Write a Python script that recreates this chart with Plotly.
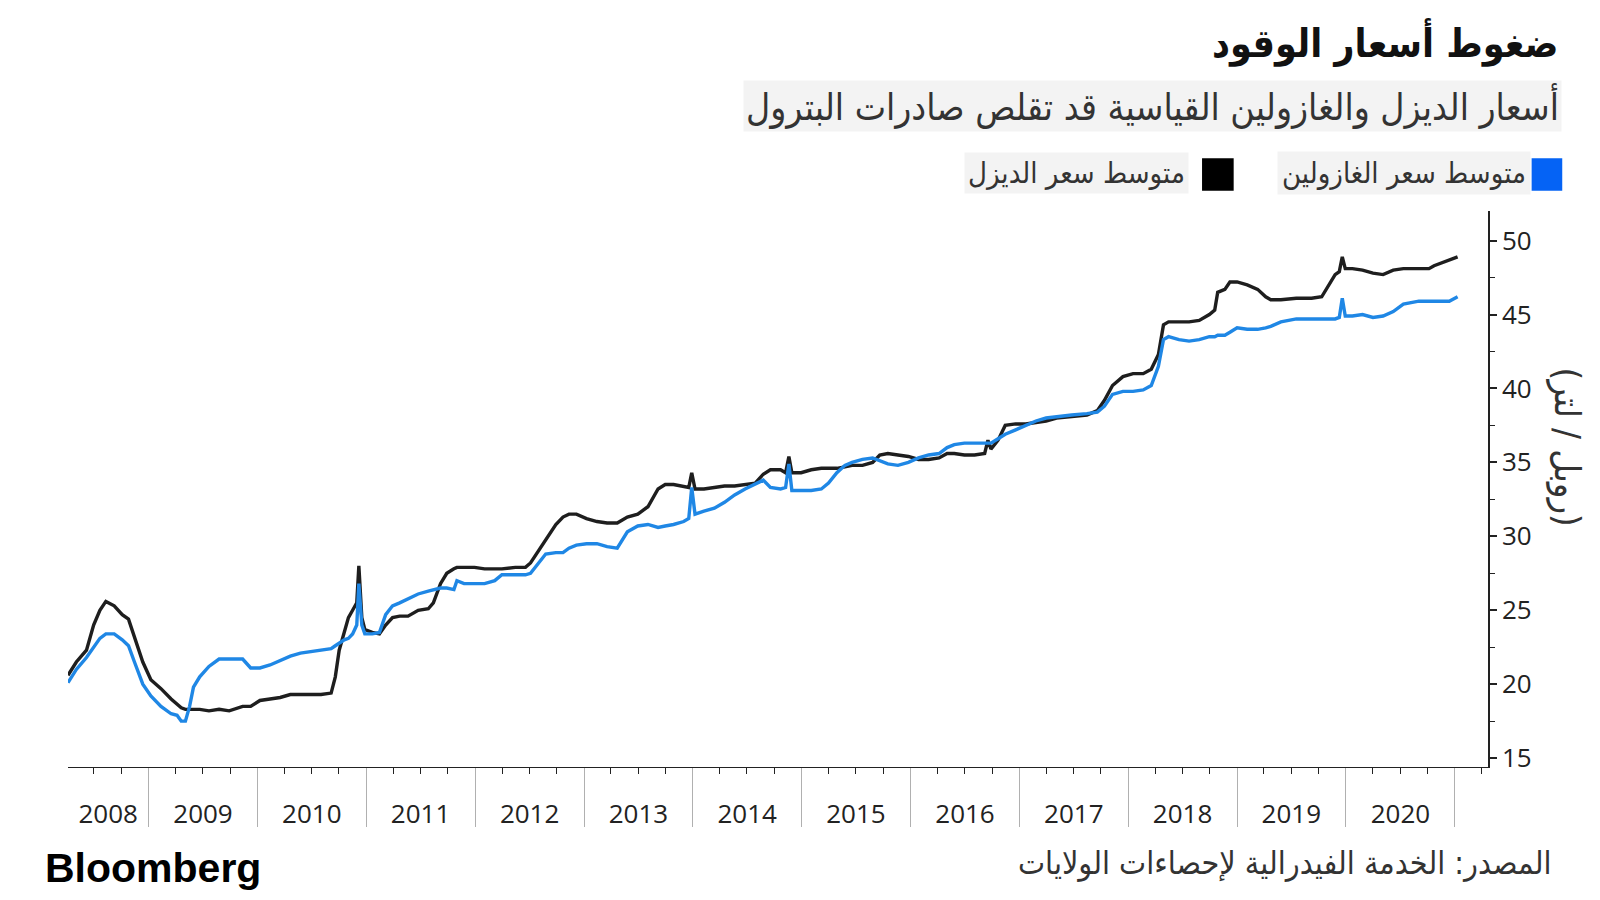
import plotly.graph_objects as go
import pandas as pd

dates = [
    "2008-04-05", "2008-05-03", "2008-06-06", "2008-06-30", "2008-07-21", "2008-08-10", "2008-09-07",
    "2008-10-04", "2008-10-25", "2008-11-14", "2008-12-12", "2009-01-08", "2009-02-11", "2009-03-17",
    "2009-04-06", "2009-04-20", "2009-05-04", "2009-05-18", "2009-05-31", "2009-06-21", "2009-07-22",
    "2009-08-25", "2009-09-28", "2009-11-12", "2009-12-09", "2010-01-09", "2010-02-12", "2010-03-18",
    "2010-04-21", "2010-05-25", "2010-06-29", "2010-08-02", "2010-09-05", "2010-09-19", "2010-10-02",
    "2010-10-19", "2010-11-02", "2010-11-16", "2010-11-30", "2010-12-07", "2010-12-17", "2010-12-27",
    "2011-01-21", "2011-02-14", "2011-03-07", "2011-03-30", "2011-04-23", "2011-05-21", "2011-06-24",
    "2011-07-28", "2011-08-14", "2011-09-07", "2011-09-28", "2011-10-22", "2011-11-01", "2011-11-25",
    "2011-12-30", "2012-02-02", "2012-03-07", "2012-03-31", "2012-05-15", "2012-06-18", "2012-07-05",
    "2012-08-01", "2012-08-25", "2012-09-28", "2012-10-22", "2012-11-11", "2012-12-06", "2013-01-09",
    "2013-02-13", "2013-03-19", "2013-04-22", "2013-05-26", "2013-06-30", "2013-08-03", "2013-09-06",
    "2013-09-30", "2013-10-28", "2013-12-01", "2013-12-18", "2013-12-28", "2014-01-08", "2014-02-07",
    "2014-03-14", "2014-04-17", "2014-05-21", "2014-06-25", "2014-07-29", "2014-08-25", "2014-09-18",
    "2014-10-22", "2014-11-08", "2014-11-19", "2014-11-29", "2014-12-30", "2015-02-02", "2015-03-08",
    "2015-04-01", "2015-04-29", "2015-05-26", "2015-06-19", "2015-07-24", "2015-08-27", "2015-09-20",
    "2015-10-17", "2015-11-20", "2015-12-25", "2016-01-28", "2016-03-02", "2016-04-06", "2016-05-03",
    "2016-05-27", "2016-06-30", "2016-08-03", "2016-09-06", "2016-09-17", "2016-09-27", "2016-10-21",
    "2016-11-14", "2016-12-19", "2017-01-22", "2017-02-25", "2017-03-31", "2017-05-05", "2017-06-25",
    "2017-08-15", "2017-09-19", "2017-10-13", "2017-11-09", "2017-12-14", "2018-01-17", "2018-02-20",
    "2018-03-19", "2018-04-12", "2018-04-29", "2018-05-16", "2018-06-20", "2018-07-24", "2018-08-27",
    "2018-09-30", "2018-10-18", "2018-10-28", "2018-11-21", "2018-12-08", "2019-01-01", "2019-02-04",
    "2019-03-11", "2019-04-07", "2019-04-24", "2019-05-28", "2019-07-19", "2019-09-08", "2019-10-12",
    "2019-11-05", "2019-11-26", "2019-12-10", "2019-12-20", "2019-12-30", "2020-01-23", "2020-02-26",
    "2020-04-01", "2020-05-05", "2020-06-08", "2020-07-12", "2020-09-02", "2020-10-06", "2020-10-23",
    "2020-11-16", "2020-12-13", "2021-01-10",
]

diesel = [
    20.6, 21.5, 22.3, 24.0, 25.0, 25.6, 25.3,
    24.7, 24.4, 23.2, 21.5, 20.3, 19.7, 19.0,
    18.6, 18.4, 18.3, 18.3, 18.3, 18.3, 18.2,
    18.3, 18.2, 18.5, 18.5, 18.9, 19.0, 19.1,
    19.3, 19.3, 19.3, 19.3, 19.4, 20.5, 22.3,
    23.6, 24.5, 25.0, 25.5, 28.0, 24.5, 23.7,
    23.5, 23.4, 24.0, 24.5, 24.6, 24.6, 25.0,
    25.1, 25.5, 26.8, 27.5, 27.8, 27.9, 27.9,
    27.9, 27.8, 27.8, 27.8, 27.9, 27.9, 28.2,
    29.0, 29.8, 30.8, 31.3, 31.5, 31.5, 31.2,
    31.0, 30.9, 30.9, 31.3, 31.5, 32.0, 33.2,
    33.5, 33.5, 33.4, 33.3, 34.3, 33.2, 33.2,
    33.3, 33.4, 33.4, 33.5, 33.6, 34.2, 34.5,
    34.5, 34.3, 35.4, 34.3, 34.3, 34.5, 34.6,
    34.6, 34.6, 34.7, 34.8, 34.8, 35.0, 35.5,
    35.6, 35.5, 35.4, 35.2, 35.2, 35.3, 35.6,
    35.6, 35.5, 35.5, 35.6, 36.5, 35.9, 36.5,
    37.5, 37.6, 37.6, 37.7, 37.8, 38.0, 38.1,
    38.2, 38.5, 39.2, 40.2, 40.8, 41.0, 41.0,
    41.3, 42.3, 44.3, 44.5, 44.5, 44.5, 44.6,
    45.0, 45.3, 46.5, 46.7, 47.2, 47.2, 47.0,
    46.7, 46.2, 46.0, 46.0, 46.1, 46.1, 46.2,
    47.0, 47.7, 47.9, 48.9, 48.1, 48.1, 48.0,
    47.8, 47.7, 48.0, 48.1, 48.1, 48.1, 48.3,
    48.5, 48.7, 48.9,
]

gasoline = [
    20.1, 21.0, 21.8, 22.5, 23.1, 23.4, 23.4,
    23.0, 22.6, 21.5, 20.0, 19.2, 18.5, 18.0,
    17.9, 17.5, 17.5, 18.5, 19.8, 20.5, 21.2,
    21.7, 21.7, 21.7, 21.1, 21.1, 21.3, 21.6,
    21.9, 22.1, 22.2, 22.3, 22.4, 22.6, 22.8,
    23.0, 23.1, 23.4, 24.0, 26.8, 24.0, 23.4,
    23.4, 23.5, 24.7, 25.3, 25.5, 25.8, 26.1,
    26.3, 26.4, 26.5, 26.5, 26.4, 27.0, 26.8,
    26.8, 26.8, 27.0, 27.4, 27.4, 27.4, 27.5,
    28.2, 28.8, 28.9, 28.9, 29.2, 29.4, 29.5,
    29.5, 29.3, 29.2, 30.3, 30.7, 30.8, 30.6,
    30.7, 30.8, 31.0, 31.2, 33.3, 31.5, 31.7,
    31.9, 32.3, 32.8, 33.2, 33.5, 33.8, 33.3,
    33.2, 33.3, 34.9, 33.1, 33.1, 33.1, 33.2,
    33.6, 34.3, 34.8, 35.0, 35.2, 35.3, 35.1,
    34.9, 34.8, 35.0, 35.3, 35.5, 35.6, 36.0,
    36.2, 36.3, 36.3, 36.3, 36.3, 36.3, 36.6,
    36.9, 37.2, 37.5, 37.8, 38.0, 38.1, 38.2,
    38.3, 38.4, 38.8, 39.6, 39.8, 39.8, 39.9,
    40.2, 41.5, 43.3, 43.5, 43.3, 43.2, 43.3,
    43.5, 43.5, 43.6, 43.6, 43.8, 44.1, 44.0,
    44.0, 44.1, 44.2, 44.5, 44.7, 44.7, 44.7,
    44.7, 44.7, 44.8, 46.1, 44.9, 44.9, 45.0,
    44.8, 44.9, 45.2, 45.7, 45.9, 45.9, 45.9,
    45.9, 45.9, 46.2,
]

year_labels = ["2008", "2009", "2010", "2011", "2012", "2013", "2014",
               "2015", "2016", "2017", "2018", "2019", "2020"]
# label sits in the middle of the visible part of each year
year_label_dates = ["2008-08-18", "2009-07-02", "2010-07-02", "2011-07-02", "2012-07-02",
                    "2013-07-02", "2014-07-02", "2015-07-02", "2016-07-02", "2017-07-02",
                    "2018-07-02", "2019-07-02", "2020-07-02"]

y_ticks = [15, 20, 25, 30, 35, 40, 45, 50]
y_minor = [17.5, 22.5, 27.5, 32.5, 37.5, 42.5, 47.5, 52.5]

title_text = "ضغوط أسعار الوقود"
subtitle_text = "أسعار الديزل والغازولين القياسية قد تقلص صادرات البترول"
gas_name = "متوسط سعر الغازولين"
diesel_name = "متوسط سعر الديزل"
y_title = "(روبل / لتر)"
source_text = "المصدر: الخدمة الفيدرالية لإحصاءات الولايات"

x = pd.to_datetime(dates)
x_range = ["2008-04-05", "2021-04-22"]

AR_FONT = "DejaVu Sans Condensed, DejaVu Sans, sans-serif"
NUM_FONT = "Open Sans, Noto Sans, sans-serif"

fig = go.Figure()
fig.add_trace(go.Scatter(x=x, y=diesel, mode="lines", name=diesel_name,
                         line=dict(color="#1e1e1e", width=3.4), showlegend=False))
fig.add_trace(go.Scatter(x=x, y=gasoline, mode="lines", name=gas_name,
                         line=dict(color="#1f87e5", width=3.4), showlegend=False))
# carrier for the year-separator axis (draws nothing)
fig.add_trace(go.Scatter(x=x[:1], y=diesel[:1], xaxis="x2", mode="markers",
                         marker=dict(opacity=0), hoverinfo="skip", showlegend=False))

# Layout positions are given in reference-screen units (K scales them to page px);
# the page has an 8px body margin, so the figure is sized to fill exactly 1600x900.
K = 1600 / 1568
OFF = 8
W, H = 1600 - 2 * OFF, 900 - 2 * OFF


def page(v):
    return v * K - OFF


L = round(page(67))
T = round(page(207))
R = W - round(page(1458))
B = H - round(page(752))
pw, ph = W - L - R, H - T - B


def px(v):
    return (page(v) - L) / pw


def py(v):
    return (H - B - page(v)) / ph


fig.update_layout(
    width=W, height=H,
    margin=dict(l=L, r=R, t=T, b=B, pad=0),
    paper_bgcolor="white", plot_bgcolor="white",
    xaxis=dict(
        type="date",
        range=x_range,
        showgrid=False, zeroline=False,
        showline=True, linecolor="#222", linewidth=1.2,
        tickmode="array", tickvals=year_label_dates, ticktext=year_labels,
        ticks="", ticklabelstandoff=24,
        tickfont=dict(family=NUM_FONT, size=26, color="#222"),
        minor=dict(tickmode="linear", tick0="2008-01-01", dtick="M3", ticks="outside",
                   ticklen=6, tickcolor="#222", tickwidth=1),
    ),
    xaxis2=dict(
        type="date",
        matches="x", overlaying="x", anchor="y", side="bottom",
        showgrid=False, zeroline=False, showline=False, showticklabels=False,
        tickmode="linear", tick0="2009-01-01", dtick="M12",
        ticks="outside", ticklen=59, tickcolor="#b0b0b0", tickwidth=1,
    ),
    yaxis=dict(
        side="right",
        range=[14.4, 52.0],
        showgrid=False, zeroline=False,
        showline=True, linecolor="#222", linewidth=1.5,
        tickmode="array", tickvals=y_ticks, ticktext=[str(v) for v in y_ticks],
        ticks="outside", ticklen=7, tickcolor="#222", tickwidth=2,
        tickfont=dict(family=NUM_FONT, size=26, color="#222"),
        minor=dict(tickmode="array", tickvals=y_minor,
                   ticks="outside", ticklen=5, tickcolor="#222", tickwidth=1),
    ),
)

annotations = [
    dict(text="<b>" + title_text + "</b>", x=px(1529), y=py(42), xanchor="right", yanchor="middle",
         font=dict(family=AR_FONT, size=39, color="#111")),
    dict(text=subtitle_text, x=px(1531), y=py(104), xanchor="right", yanchor="middle",
         font=dict(family=AR_FONT, size=37, color="#333"), bgcolor="#f3f3f3", borderpad=2),
    dict(text=gas_name, x=px(1500), y=py(170), xanchor="right", yanchor="middle",
         font=dict(family=AR_FONT, size=29, color="#333"), bgcolor="#f3f3f3", borderpad=4),
    dict(text=diesel_name, x=px(1165), y=py(170), xanchor="right", yanchor="middle",
         font=dict(family=AR_FONT, size=29, color="#333"), bgcolor="#f3f3f3", borderpad=3),
    dict(text=y_title, x=px(1536), y=py(438), xanchor="center", yanchor="middle", textangle=90,
         font=dict(family=AR_FONT, size=36, color="#333")),
    dict(text=source_text, x=px(1522), y=py(846), xanchor="right", yanchor="middle",
         font=dict(family=AR_FONT, size=32, color="#333")),
    dict(text="<b>Bloomberg</b>", x=px(42), y=py(851), xanchor="left", yanchor="middle",
         font=dict(family="Liberation Sans, Arial, sans-serif", size=41, color="#000")),
]
for a in annotations:
    a.update(xref="paper", yref="paper", showarrow=False)
fig.update_layout(annotations=annotations)

shapes = [
    dict(type="rect", x0=px(1501), x1=px(1531), y0=py(187), y1=py(155),
         fillcolor="#0563f5", line=dict(width=0)),
    dict(type="rect", x0=px(1178), x1=px(1209), y0=py(187), y1=py(155),
         fillcolor="#000000", line=dict(width=0)),
]
for s in shapes:
    s.update(xref="paper", yref="paper")
fig.update_layout(shapes=shapes)

fig.write_html("out.html")
